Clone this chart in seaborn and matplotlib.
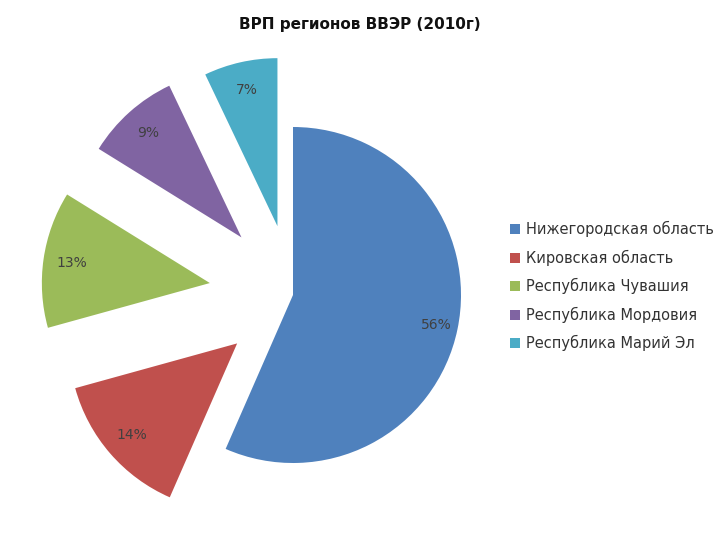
import matplotlib
matplotlib.use("Agg")
import matplotlib.pyplot as plt
import seaborn as sns
import numpy as np

sns.set_theme(style="white")
plt.rcParams['font.family'] = ['DejaVu Sans']

regions = ["Нижегородская область", "Кировская область", "Республика Чувашия",
           "Республика Мордовия", "Республика Марий Эл"]
shares = [56, 14, 13, 9, 7]
labels = ["56%", "14%", "13%", "9%", "7%"]
colors = ["#4F81BD", "#C0504D", "#9BBB59", "#8064A2", "#4BACC6"]
explode = [0, 0.44, 0.5, 0.46, 0.42]

fig = plt.figure(figsize=(7.2, 5.4), dpi=100)
ax = fig.add_axes([(293-168)/720, (540-295-168)/540, 336/720, 336/540])
wedges, _ = ax.pie(shares, colors=colors, startangle=90, counterclock=False,
                   explode=explode, radius=1, wedgeprops=dict(linewidth=0))
for w, lab, e in zip(wedges, labels, explode):
    ang = np.deg2rad((w.theta1 + w.theta2) / 2)
    r = 0.87 if e == 0 else 0.83 + e
    ax.text(r*np.cos(ang), r*np.sin(ang), lab, ha="center", va="center",
            fontsize=10, color="#404040")
ax.set_xlim(-1, 1); ax.set_ylim(-1, 1)
for w in wedges: w.set_clip_on(False)
ax.axis("off")
fig.text(0.5, 0.955, "ВРП регионов ВВЭР (2010г)", ha="center", va="center",
         fontsize=11, fontweight="bold", color="#111111")
fig.legend(wedges, regions, loc="center left", bbox_to_anchor=(0.69, 0.47),
           frameon=False, fontsize=10.5, handlelength=0.7, handleheight=0.7,
           handletextpad=0.4, labelspacing=0.85, labelcolor="#333333")
fig.savefig("out.png", dpi=100)
